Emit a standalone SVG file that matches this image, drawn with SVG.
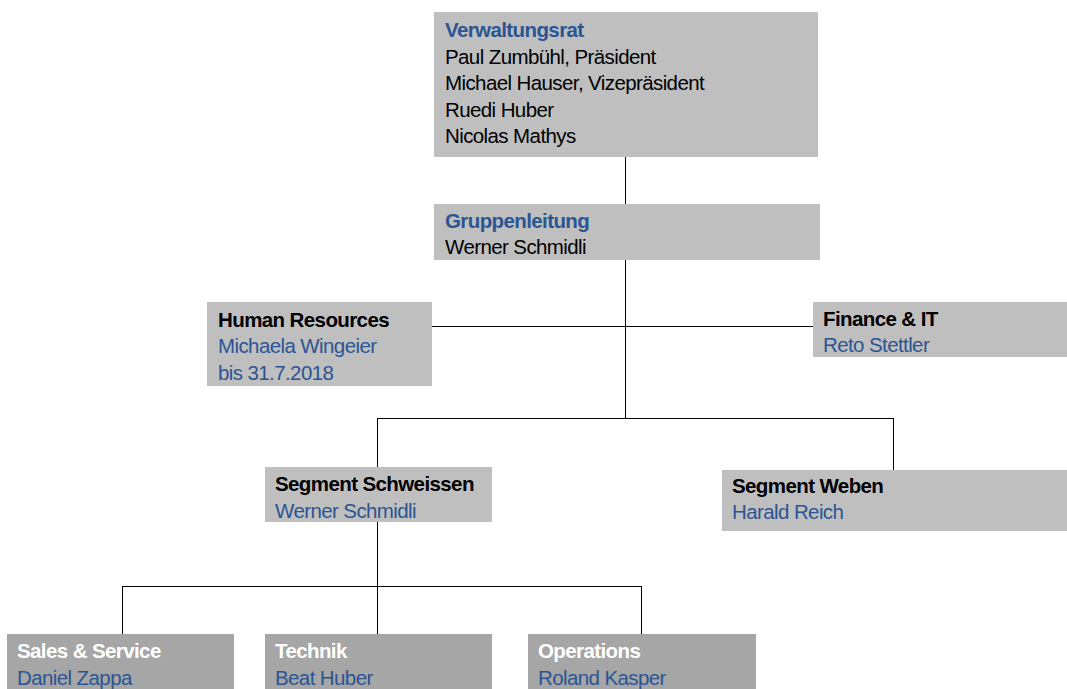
<svg xmlns="http://www.w3.org/2000/svg" width="1067" height="689" viewBox="0 0 1067 689">
<style>
text{font-family:"Liberation Sans",Arial,sans-serif;font-size:20.5px;letter-spacing:-0.6px;fill:#000}
.b{font-weight:bold}
.blue{fill:#2b5592}
.white{fill:#fff}
.box{fill:#bfbfbf}
.box2{fill:#a6a6a6}
.con{stroke:#000;stroke-width:1;fill:none}
</style>
<rect width="1067" height="689" fill="#fff"/>
<g id="connectors">
<path class="con" d="M625.5 157V204M625.5 260V418.5M432 326.5H813M377.5 418.5H893.5M377.5 418V467M893.5 418V470M377.5 522V586.5M122.5 586.5H641.5M122.5 586V634M377.5 586V634M641.5 586V634"/>
</g>
<g id="verwaltungsrat">
<rect class="box" x="434" y="12" width="384" height="145"/>
<text x="445" y="37" class="b blue">Verwaltungsrat</text>
<text x="445" y="64">Paul Zumbühl, Präsident</text>
<text x="445" y="90">Michael Hauser, Vizepräsident</text>
<text x="445" y="117">Ruedi Huber</text>
<text x="445" y="143">Nicolas Mathys</text>
</g>
<g id="gruppenleitung">
<rect class="box" x="434" y="204" width="386" height="56"/>
<text x="445" y="228" class="b blue">Gruppenleitung</text>
<text x="445" y="254">Werner Schmidli</text>
</g>
<g id="hr">
<rect class="box" x="207" y="302" width="225" height="84"/>
<text x="218" y="327" class="b">Human Resources</text>
<text x="218" y="353" class="blue">Michaela Wingeier</text>
<text x="218" y="380" class="blue">bis 31.7.2018</text>
</g>
<g id="finance">
<rect class="box" x="813" y="302" width="254" height="55"/>
<text x="823" y="326" class="b">Finance &amp; IT</text>
<text x="823" y="352" class="blue">Reto Stettler</text>
</g>
<g id="schweissen">
<rect class="box" x="265" y="467" width="227" height="55"/>
<text x="275" y="491" class="b">Segment Schweissen</text>
<text x="275" y="518" class="blue">Werner Schmidli</text>
</g>
<g id="weben">
<rect class="box" x="722" y="470" width="345" height="61"/>
<text x="732" y="493" class="b">Segment Weben</text>
<text x="732" y="519" class="blue">Harald Reich</text>
</g>
<g id="sales">
<rect class="box2" x="7" y="634" width="227" height="55"/>
<text x="17" y="658" class="b white">Sales &amp; Service</text>
<text x="17" y="685" class="blue">Daniel Zappa</text>
</g>
<g id="technik">
<rect class="box2" x="265" y="634" width="227" height="55"/>
<text x="275" y="658" class="b white">Technik</text>
<text x="275" y="685" class="blue">Beat Huber</text>
</g>
<g id="operations">
<rect class="box2" x="528" y="634" width="228" height="55"/>
<text x="538" y="658" class="b white">Operations</text>
<text x="538" y="685" class="blue">Roland Kasper</text>
</g>
</svg>
